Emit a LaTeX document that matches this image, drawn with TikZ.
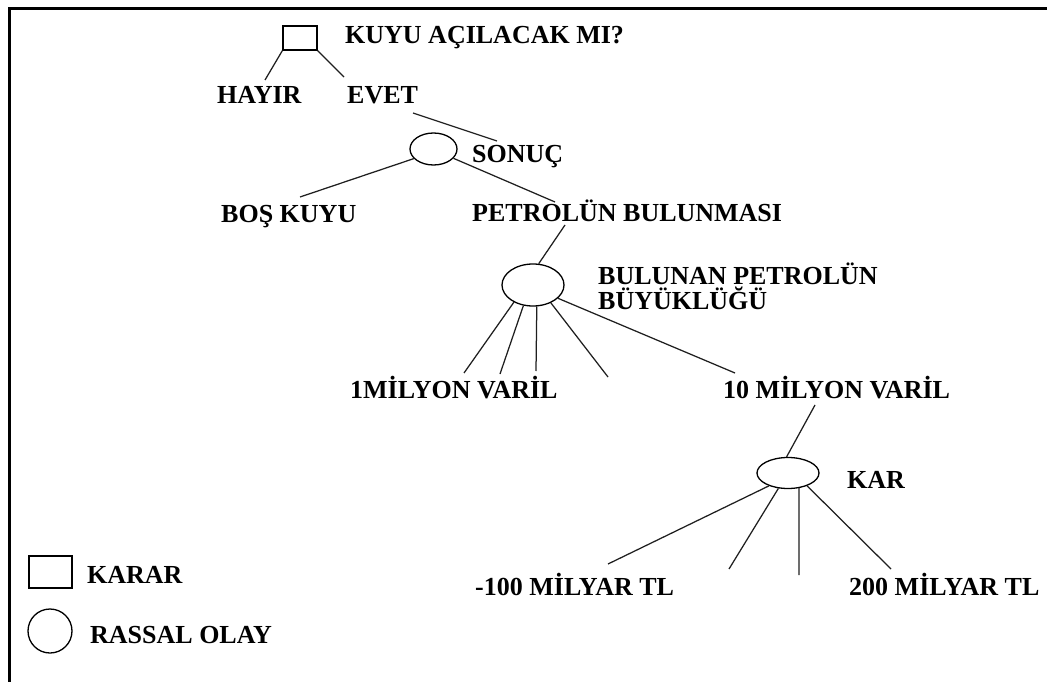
\documentclass[tikz,border=0pt]{standalone}
\usepackage{fontspec}
\setmainfont{Liberation Serif}
\usetikzlibrary{shapes.geometric}
\begin{document}
\begin{tikzpicture}[x=1pt,y=-1pt,
  lbl/.style={anchor=base west,inner sep=0pt,font=\fontsize{26}{30}\selectfont\bfseries},
  decision/.style={draw,line width=1.3pt,rectangle,inner sep=0pt,minimum width=34pt,minimum height=24pt},
  chance/.style={draw,line width=1.3pt,ellipse,inner sep=0pt},
  branch/.style={line width=1.25pt,draw=black!88}]
\useasboundingbox (0,0) rectangle (1047,682);
% frame
\draw[line width=3pt] (9.5,682) -- (9.5,8.5) -- (1047,8.5);

% decision: drill the well?
\node[decision] (dec) at (300,38) {};
\node[lbl] (q) at (345,44) {KUYU AÇILACAK MI?};
\node[lbl] (hayir) at (217,104) {HAYIR};
\node[lbl] (evet) at (347,104) {EVET};
\coordinate (hayirTop) at (265,80);
\coordinate (evetTop) at (344,77);
\draw[branch] (dec.south west) -- (hayirTop);
\draw[branch] (dec.south east) -- (evetTop);

% outcome of drilling
\node[chance,minimum width=47pt,minimum height=32pt] (s1) at (433.5,149) {};
\node[lbl] (sonuc) at (472,163) {SONUÇ};
\coordinate (evetEnd) at (413,113);
\coordinate (sonucTop) at (497,141);
\draw[branch] (evetEnd) -- (sonucTop);
\node[lbl] (bos) at (221,222) {BOŞ KUYU};
\node[lbl] (petrol) at (472,221) {PETROLÜN BULUNMASI};
\coordinate (bosTop) at (300,197);
\coordinate (petrolTop) at (555,202);
\draw[branch] (s1.206) -- (bosTop);
\draw[branch] (s1.335) -- (petrolTop);

% size of the oil found
\node[chance,minimum width=62pt,minimum height=42pt] (big) at (533,285) {};
\node[lbl] (bul1) at (598,284) {BULUNAN PETROLÜN};
\node[lbl] (bul2) at (598,309) {BÜYÜKLÜĞÜ};
\coordinate (petrolBot) at (565,225);
\draw[branch] (petrolBot) -- (big.75);
\node[lbl] (m1) at (350,398) {1MİLYON VARİL};
\node[lbl] (m10) at (723,398) {10 MİLYON VARİL};
\coordinate (f1) at (464,373);
\coordinate (f2) at (500,374);
\coordinate (f3) at (536,371);
\coordinate (f4) at (608,377);
\coordinate (f5) at (735,373);
\draw[branch] (big.222) -- (f1);
\draw[branch] (big.245) -- (f2);
\draw[branch] (big.280) -- (f3);
\draw[branch] (big.315) -- (f4);
\draw[branch] (big.332) -- (f5);

% profit
\node[chance,minimum width=62pt,minimum height=31pt] (kar) at (788,473) {};
\node[lbl] (karl) at (847,488) {KAR};
\coordinate (m10Bot) at (815,405);
\draw[branch] (m10Bot) -- (kar.95);
\node[lbl] (neg) at (475,595) {-100 MİLYAR TL};
\node[lbl] (pos) at (849,595) {200 MİLYAR TL};
\coordinate (k1) at (608,564);
\coordinate (k2) at (729,569);
\coordinate (k3) at (799,575);
\coordinate (k4) at (891,569);
\draw[branch] (kar.214) -- (k1);
\draw[branch] (kar.238) -- (k2);
\draw[branch] (kar.306) -- (k3);
\draw[branch] (kar.326) -- (k4);

% legend
\node[decision,minimum width=43pt,minimum height=32pt] (legRect) at (50.5,572) {};
\node[lbl] (legKarar) at (87,583) {KARAR};
\node[draw,line width=1.3pt,circle,inner sep=0pt,minimum size=44pt] (legCirc) at (50,631) {};
\node[lbl] (legRassal) at (90,643) {RASSAL OLAY};
\end{tikzpicture}
\end{document}
